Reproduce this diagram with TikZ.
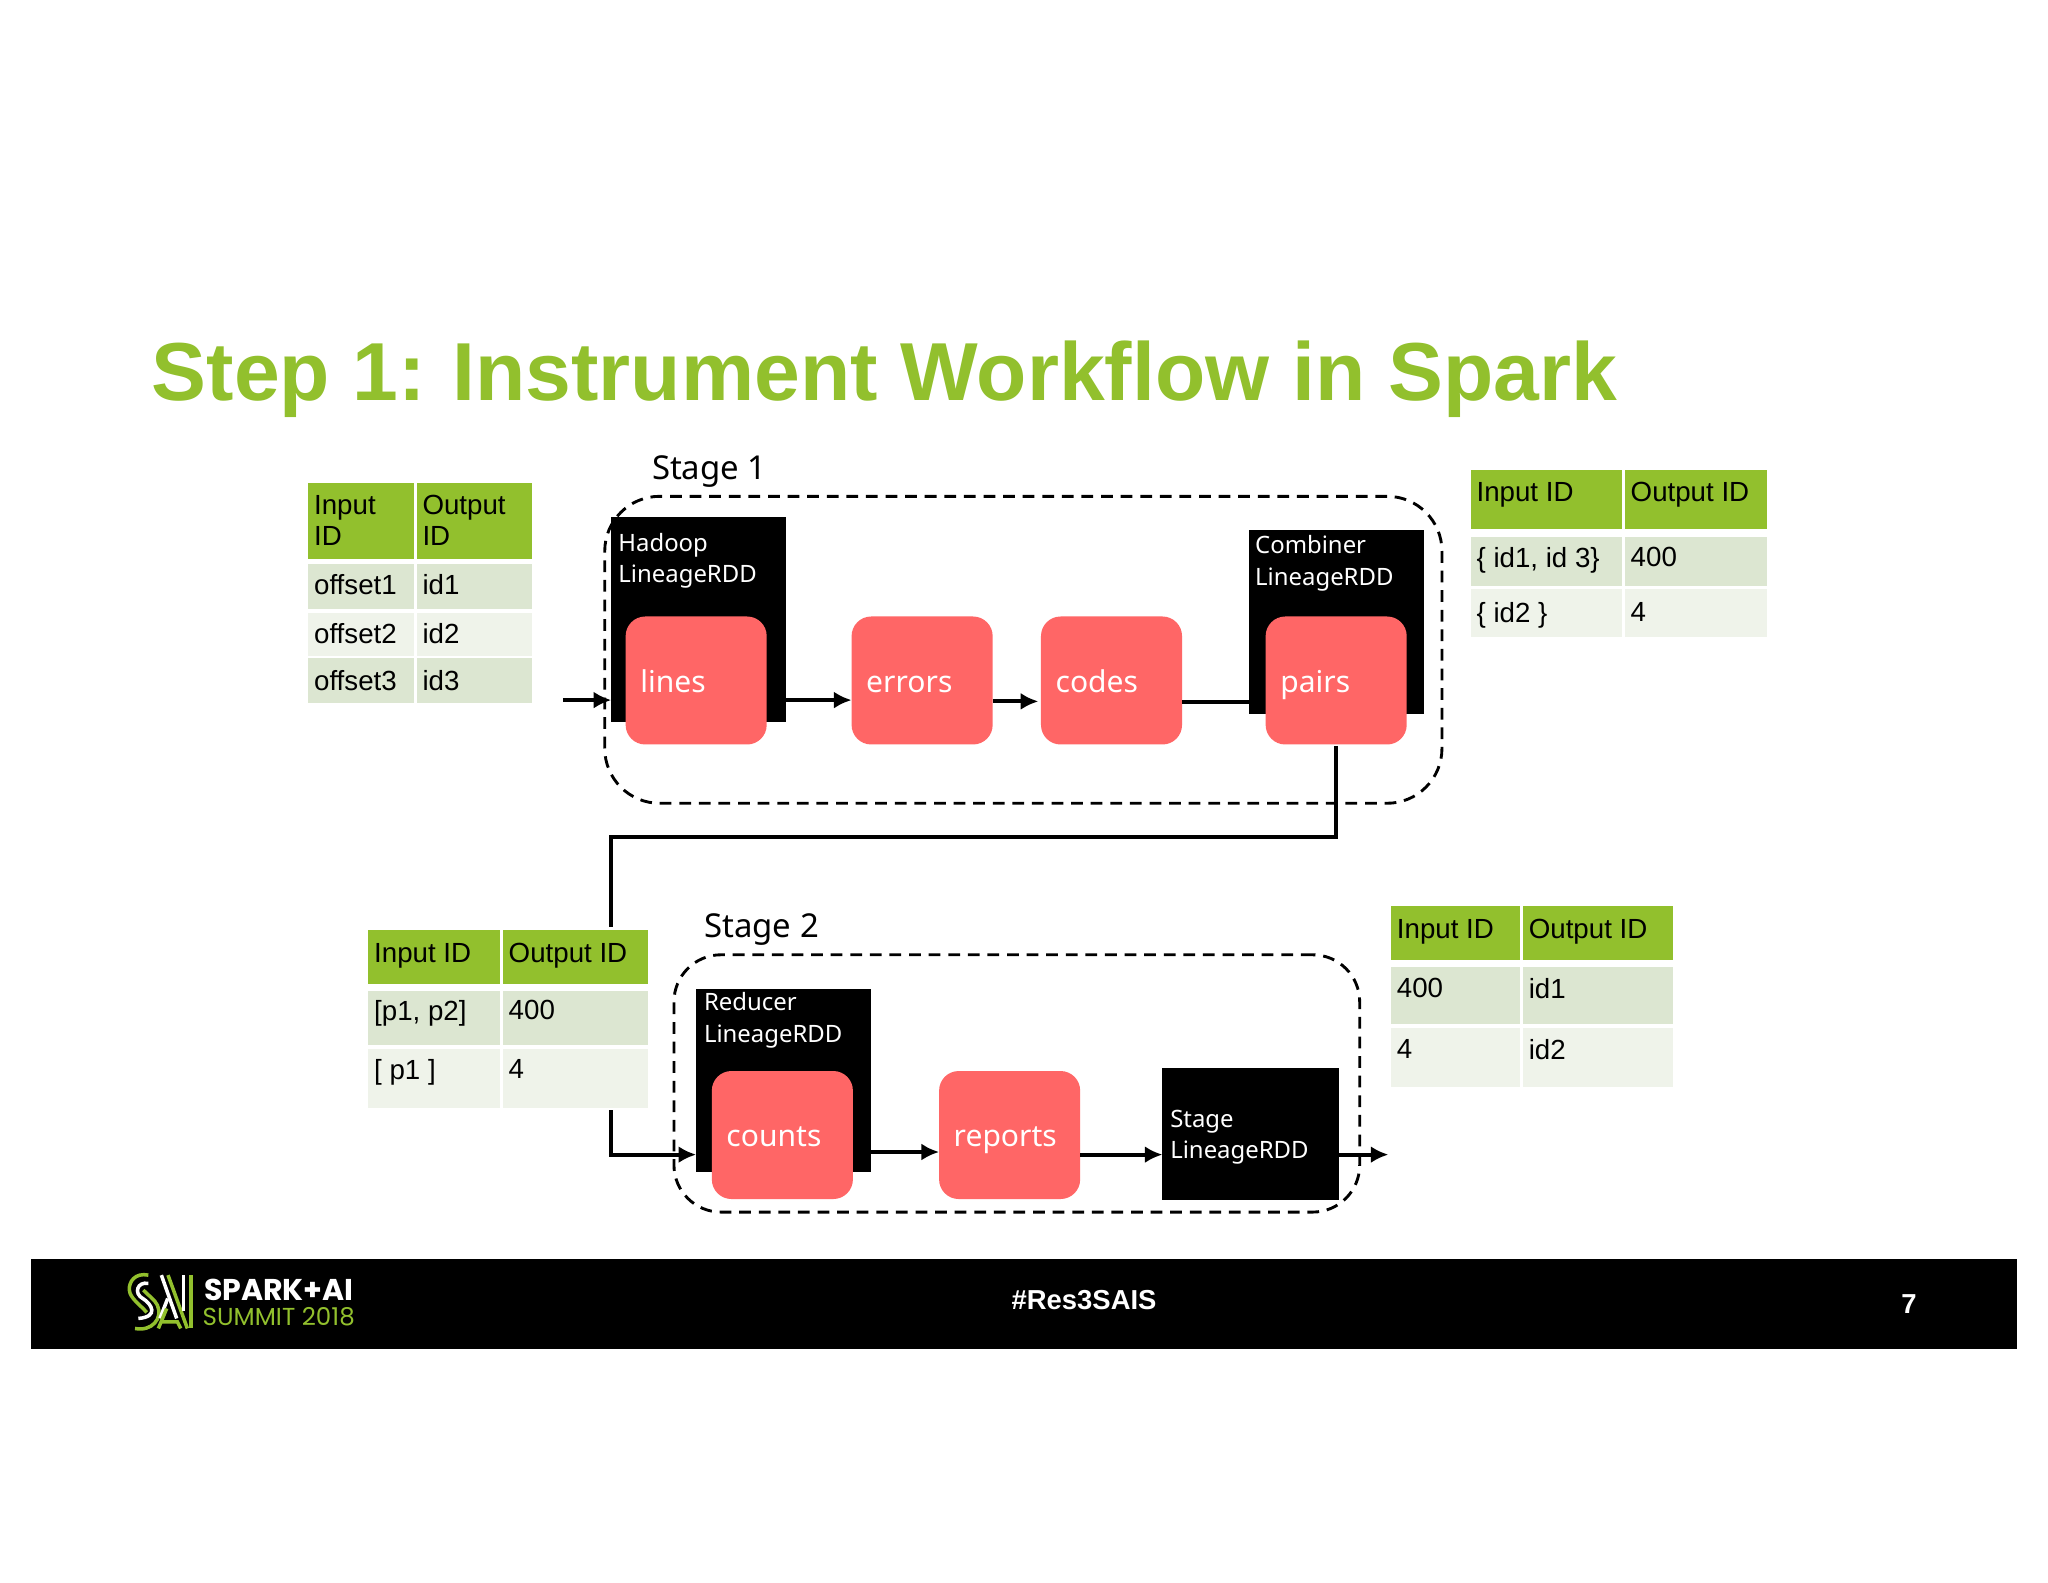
\documentclass[tikz,border=0pt]{standalone}
\usepackage{fontspec}
\setmainfont{Liberation Sans}
\newfontfamily\tah{Noto Sans}
\newfontfamily\pop{Poppins}
\usetikzlibrary{arrows.meta}
\definecolor{hdr}{HTML}{92C02D}
\definecolor{rowa}{HTML}{DCE6D1}
\definecolor{rowb}{HTML}{EFF3EA}
\definecolor{redbox}{HTML}{FF6666}
\newcommand{\cell}[8]{%
  \node[cellshape,fill=#6,minimum width={(#4-#2)*1pt},minimum height={(#5-#3)*1pt}] (#1) at (#2,#3) {};
  \node[celltext] (#1t) at (#2+4.5,#3+#7) {#8};}
\tikzset{
  cellshape/.style={anchor=north west,inner sep=0pt,outer sep=0pt,draw=none},
  celltext/.style={anchor=north west,inner sep=0pt,outer sep=0pt,align=left,text=black,font=\fontsize{21.2}{24}\selectfont},
  blackbox/.style={anchor=north west,inner sep=0pt,outer sep=0pt,fill=black},
  blacktext/.style={anchor=north west,inner sep=0pt,outer sep=0pt,align=left,text=white,font=\tah\fontsize{18.3}{24}\selectfont},
  redshape/.style={anchor=north west,inner sep=0pt,outer sep=0pt,fill=redbox,rounded corners=15pt,minimum width=108pt,minimum height=98pt},
  redtext/.style={anchor=base west,inner sep=0pt,text=white,font=\tah\fontsize{23}{28}\selectfont},
  stagebox/.style={anchor=north west,inner sep=0pt,outer sep=0pt,draw=black,line width=2.2pt,dash pattern=on 9pt off 6pt},
  stagetext/.style={anchor=west,inner sep=0pt,font=\tah\fontsize{25.2}{30}\selectfont},
  flow/.style={draw=black,line width=3pt,-{Latex[length=13.5pt,width=13pt]}},
  wire/.style={draw=black,line width=3pt},
  ftext/.style={inner sep=0pt,text=white,font=\bfseries\fontsize{21}{24}\selectfont},
  logog/.style={draw=hdr,line width=2.7pt},
  logow/.style={draw=white,line width=2.7pt}
}
\begin{document}
\begin{tikzpicture}[x=1pt,y=-1pt]
\useasboundingbox (0,0) rectangle (1568,1211.3);
\fill[white] (0,0) rectangle (1568,1211.3);
\node[anchor=base west,inner sep=0pt,text=hdr,font=\bfseries\fontsize{63}{70}\selectfont] (title) at (116,306.5) {Step 1:\hspace{-3pt} Instrument Workflow in Spark};

% table 1
\cell{aa}{236}{370}{317}{428}{hdr}{9}{Input\\ID}
\cell{ab}{319}{370}{407}{428}{hdr}{9}{Output\\ID}
\cell{ac}{236}{432}{317}{466}{rowa}{8}{offset1}
\cell{ad}{319}{432}{407}{466}{rowa}{8}{id1}
\cell{ae}{236}{469}{317}{502}{rowb}{8}{offset2}
\cell{af}{319}{469}{407}{502}{rowb}{8}{id2}
\cell{ag}{236}{504}{317}{538}{rowa}{9.5}{offset3}
\cell{ah}{319}{504}{407}{538}{rowa}{9.5}{id3}
% table 2
\cell{ba}{1126}{360}{1242}{405}{hdr}{9.5}{Input ID}
\cell{bb}{1244}{360}{1353}{405}{hdr}{9.5}{Output ID}
\cell{bc}{1126}{411}{1242}{449}{rowa}{8}{\{ id1, id 3\}}
\cell{bd}{1244}{411}{1353}{449}{rowa}{8}{400}
\cell{be}{1126}{451}{1242}{488}{rowb}{10}{\{ id2 \}}
\cell{bf}{1244}{451}{1353}{488}{rowb}{10}{4}
% table 3
\cell{ca}{282}{712}{383}{753}{hdr}{10}{Input ID}
\cell{cb}{385}{712}{496}{753}{hdr}{10}{Output ID}
\cell{cc}{282}{759}{383}{800}{rowa}{7}{[p1, p2]}
\cell{cd}{385}{759}{496}{800}{rowa}{7}{400}
\cell{ce}{282}{803}{383}{848}{rowb}{8}{[ p1 ]}
\cell{cf}{385}{803}{496}{848}{rowb}{8}{4}
% table 4
\cell{da}{1065}{694}{1164}{735}{hdr}{10}{Input ID}
\cell{db}{1166}{694}{1281}{735}{hdr}{10}{Output ID}
\cell{dc}{1065}{740}{1164}{784}{rowa}{9}{400}
\cell{dd}{1166}{740}{1281}{784}{rowa}{9}{id1}
\cell{de}{1065}{787}{1164}{832}{rowb}{9}{4}
\cell{df}{1166}{787}{1281}{832}{rowb}{9}{id2}

% stage boxes
\node[stagebox,rounded corners=42pt,minimum width=641pt,minimum height=235pt] (stagea) at (463,380) {};
\node[stagebox,rounded corners=36pt,minimum width=525pt,minimum height=197pt] (stageb) at (516,731) {};
\node[stagetext] (stageat) at (499,361) {Stage 1};
\node[stagetext] (stagebt) at (539,712) {Stage 2};

% black boxes
\node[blackbox,minimum width=134pt,minimum height=157pt] (hadoop) at (468,396) {};
\node[blackbox,minimum width=134pt,minimum height=141pt] (combiner) at (956,406) {};
\node[blackbox,minimum width=134pt,minimum height=140pt] (reducer) at (533,757) {};
\node[blackbox,minimum width=135pt,minimum height=101pt] (stagerdd) at (890,818) {};
\node[blacktext] (hadoopt) at (473.5,408) {Hadoop\\LineageRDD};
\node[blacktext] (combinert) at (961,410) {Combiner\\LineageRDD};
\node[blacktext] (reducert) at (539,760) {Reducer\\LineageRDD};
\node[blacktext] (stagerddt) at (896,850) {Stage\\LineageRDD};

% red boxes
\node[redshape] (lines) at (479,472) {};
\node[redshape] (errors) at (652,472) {};
\node[redshape] (codes) at (797,472) {};
\node[redshape] (pairs) at (969,472) {};
\node[redshape] (counts) at (545,820) {};
\node[redshape] (reports) at (719,820) {};
\node[redtext] (linest) at (490,530) {lines};
\node[redtext] (errorst) at (663,530) {errors};
\node[redtext] (codest) at (808,530) {codes};
\node[redtext] (pairst) at (980,530) {pairs};
\node[redtext] (countst) at (556,878) {counts};
\node[redtext] (reportst) at (730,878) {reports};

% connectors
\coordinate (inA) at (431,536);
\coordinate (hadoopw) at (hadoop.west |- inA);
\draw[flow] (inA) -- (hadoopw);
\coordinate (hadoope) at (hadoop.east |- inA);
\coordinate (errorsw) at (errors.west |- inA);
\draw[flow] (hadoope) -- (errorsw);
\coordinate (errorse) at (760,537);
\coordinate (codesw) at (795,537);
\draw[flow] (errorse) -- (codesw);
\coordinate (codese) at (905,537.5);
\coordinate (combw) at (956,537.5);
\draw[wire] (codese) -- (combw);
\coordinate (pairsdown) at (1023,571);
\coordinate (jointa) at (1023,641);
\coordinate (jointb) at (468,641);
\coordinate (tabletop) at (468,710);
\draw[wire,line join=miter] (pairsdown) -- (jointa) -- (jointb) -- (tabletop);
\coordinate (tablebot) at (468,850);
\coordinate (jointc) at (468,884);
\coordinate (redw) at (reducer.west |- jointc);
\draw[flow] (tablebot) -- (jointc) -- (redw);
\coordinate (rede) at (667,882);
\coordinate (repw) at (reports.west |- rede);
\draw[flow] (rede) -- (repw);
\coordinate (repe) at (827,884);
\coordinate (srddw) at (stagerdd.west |- repe);
\draw[flow] (repe) -- (srddw);
\coordinate (srdde) at (stagerdd.east |- repe);
\coordinate (outb) at (1063,884);
\draw[flow] (srdde) -- (outb);

% footer
\node[anchor=north west,inner sep=0pt,outer sep=0pt,fill=black,minimum width=1520pt,minimum height=69pt] (footer) at (24,964) {};
\node[ftext] (tag) at (830,995) {\#Res3SAIS};
\node[ftext] (page) at (1461.5,998.5) {7};
\node[anchor=base west,inner sep=0pt,text=white,font=\pop\bfseries\fontsize{23}{26}\selectfont] (spark) at (156,996) {SPARK+AI};
\node[anchor=base west,inner sep=0pt,text=hdr,font=\pop\fontsize{18.8}{22}\selectfont] (summit) at (155,1014.5) {SUMMIT 2018};
% logo
\begin{scope}[shift={(91.9,968.6)},x=0.2552pt,y=-0.2552pt]
\draw[logog] (85,30) .. controls (45,22) and (26,50) .. (28,75) .. controls (30,100) and (62,120) .. (80,142);
\draw[logog] (45,190) .. controls (95,200) and (130,160) .. (112,120) .. controls (102,100) and (85,92) .. (70,75);
\draw[logow] (85,55) .. controls (52,48) and (40,85) .. (68,100) .. controls (95,116) and (118,155) .. (55,160);
\draw[logow] (124,30) -- (170,160);
\draw[logog] (144,30) -- (202,190);
\draw[logow] (190,30) -- (190,138);
\draw[logog] (213,30) -- (213,190);
\draw[logow] (120,160) -- (143,100);
\draw[logog] (115,190) -- (140,130);
\draw[logog] (125,170) -- (172,170) -- (182,190);
\end{scope}
\end{tikzpicture}
\end{document}
